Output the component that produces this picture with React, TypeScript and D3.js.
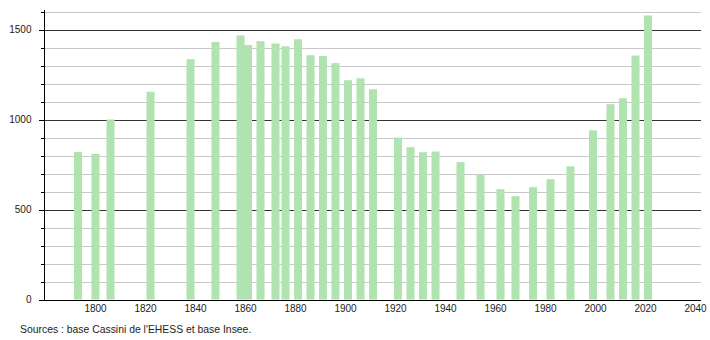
import React from "react";
import * as d3 from "d3";

const years = [1793, 1800, 1806, 1822, 1838, 1848, 1858, 1861, 1866, 1872, 1876, 1881, 1886, 1891, 1896, 1901, 1906, 1911, 1921, 1926, 1931, 1936, 1946, 1954, 1962, 1968, 1975, 1982, 1990, 1999, 2006, 2011, 2016, 2021];
const population = [820, 809, 1000, 1154, 1335, 1431, 1467, 1414, 1435, 1422, 1407, 1446, 1357, 1353, 1313, 1218, 1229, 1168, 900, 846, 818, 822, 763, 696, 613, 574, 624, 668, 740, 940, 1085, 1118, 1355, 1578];
const xTicks = [1800, 1820, 1840, 1860, 1880, 1900, 1920, 1940, 1960, 1980, 2000, 2020, 2040];
const yMajor = [0, 500, 1000, 1500];
const yMinor = d3.range(100, 1700, 100).filter((v) => v % 500 !== 0);
const source = "Sources : base Cassini de l'EHESS et base Insee.";

export default function App() {
  const W = 710;
  const H = 340;
  const x = d3.scaleLinear().domain([1780, 2042]).range([45.5, 700.5]);
  const y = d3.scaleLinear().domain([0, 1600]).range([299.5, 11.5]);
  const axisX = 44;
  const barW = 8;
  const font = "'Liberation Sans', Arial, sans-serif";
  return (
    <svg
      width={W}
      height={H}
      style={{ position: "absolute", left: 0, top: 0, background: "#fff" }}
      fontFamily={font}
    >
      {yMinor.map((v) => (
        <g key={"mi" + v}>
          <line x1={axisX} x2={701} y1={Math.round(y(v)) + 0.5} y2={Math.round(y(v)) + 0.5} stroke="#c8c8c8" strokeWidth={1} />
          <line x1={41} x2={axisX} y1={Math.round(y(v)) + 0.5} y2={Math.round(y(v)) + 0.5} stroke="#000" strokeWidth={1} />
        </g>
      ))}
      {yMajor.filter((v) => v > 0).map((v) => (
        <line key={"ma" + v} x1={axisX} x2={701} y1={Math.round(y(v)) + 0.5} y2={Math.round(y(v)) + 0.5} stroke="#333" strokeWidth={1} />
      ))}
      {years.map((yr, i) => (
        <rect
          key={yr}
          x={x(yr) - barW / 2}
          y={y(population[i])}
          width={barW}
          height={y(0) - y(population[i])}
          fill="#b0e3b0"
        />
      ))}
      {yMajor.map((v) => (
        <g key={"t" + v}>
          <line x1={39} x2={axisX} y1={Math.round(y(v)) + 0.5} y2={Math.round(y(v)) + 0.5} stroke="#000" strokeWidth={1} />
          <text x={31.5} y={y(v)} dy="0.35em" textAnchor="end" fontSize={10} fill="#222">
            {v}
          </text>
        </g>
      ))}
      <line x1={axisX + 0.5} x2={axisX + 0.5} y1={10} y2={300} stroke="#000" strokeWidth={1} />
      <line x1={39} x2={701} y1={300.5} y2={300.5} stroke="#000" strokeWidth={1} />
      {xTicks.map((t) => (
        <text key={"x" + t} x={x(t)} y={308} dy="0.35em" textAnchor="middle" fontSize={10} fill="#222">
          {t}
        </text>
      ))}
      <text x={20} y={329} dy="0.35em" fontSize={10.4} fill="#222">
        {source}
      </text>
    </svg>
  );
}
